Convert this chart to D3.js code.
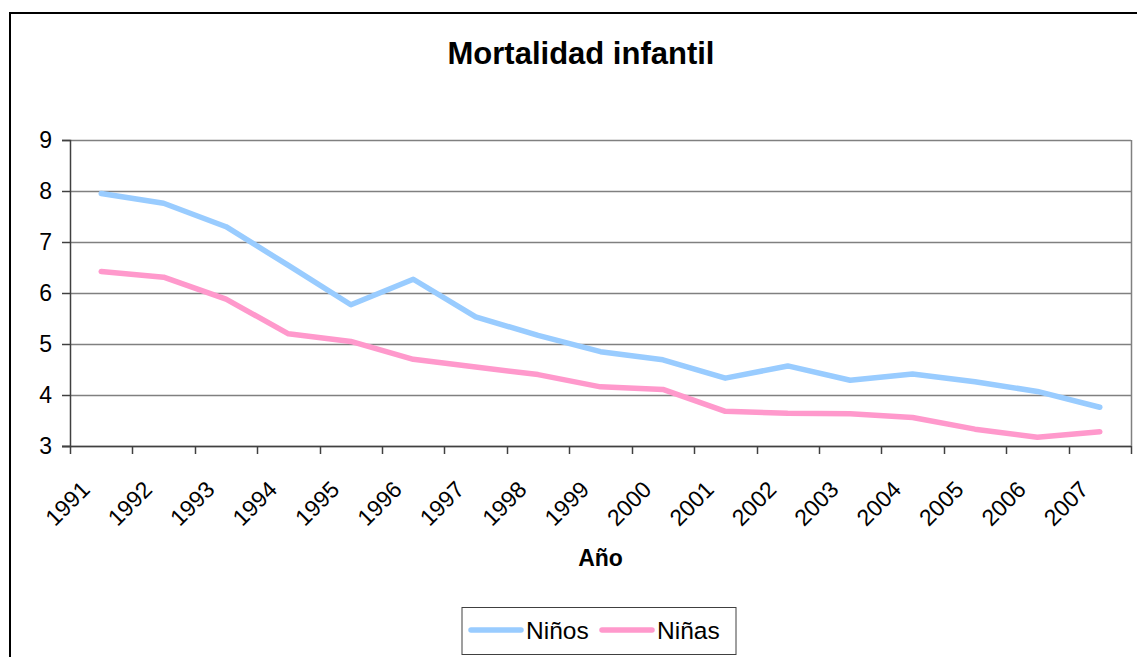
<!DOCTYPE html>
<html><head><meta charset="utf-8">
<script src="https://cdn.jsdelivr.net/npm/d3@7"></script>
<style>
html,body{margin:0;padding:0;background:#fff;}
svg{display:block;font-family:Arial,"Liberation Sans",sans-serif;}
</style></head>
<body>
<svg id="chart" width="1137" height="657"></svg>
<script>
const years = ["1991","1992","1993","1994","1995","1996","1997","1998","1999","2000","2001","2002","2003","2004","2005","2006","2007"];
const ninos = [7.95,7.76,7.30,6.54,5.77,6.27,5.53,5.17,4.85,4.69,4.33,4.57,4.29,4.41,4.26,4.07,3.76];
const ninas = [6.42,6.31,5.88,5.20,5.05,4.70,4.55,4.40,4.16,4.11,3.68,3.64,3.63,3.56,3.33,3.17,3.28];
const yTicks = [3,4,5,6,7,8,9];
const seriesNames = ["Niños","Niñas"];
const seriesColors = ["#99CCFF","#FF99CC"];

const svg = d3.select("#chart");
const W = 1137, H = 657;
const plot = {l:70, r:1131, t:140, b:446};

// outer chart border
svg.append("rect").attr("x",10).attr("y",13).attr("width",W+20).attr("height",H+20)
  .attr("fill","#fff").attr("stroke","#000").attr("stroke-width",2);

const x = d3.scaleBand().domain(years).range([plot.l, plot.r]).padding(0);
const y = d3.scaleLinear().domain([3,9]).range([plot.b, plot.t]);

// gridlines
svg.append("g").selectAll("line").data(yTicks).join("line")
  .attr("x1",plot.l).attr("x2",plot.r)
  .attr("y1",d=>Math.round(y(d))+0.5).attr("y2",d=>Math.round(y(d))+0.5)
  .attr("stroke","#808080").attr("stroke-width",1.5);
// right border
svg.append("line").attr("x1",plot.r+0.5).attr("x2",plot.r+0.5).attr("y1",plot.t).attr("y2",plot.b)
  .attr("stroke","#808080").attr("stroke-width",1.5);

// y axis
const yAxis = svg.append("g").attr("transform",`translate(${plot.l},0)`)
  .call(d3.axisLeft(y).tickValues(yTicks).tickSize(8).tickPadding(10).tickFormat(d3.format("d")));
yAxis.select(".domain").attr("stroke","#404040").attr("stroke-width",1.5);
yAxis.selectAll(".tick line").attr("stroke","#404040").attr("stroke-width",1.5);
yAxis.selectAll("text").attr("font-size",23).attr("fill","#000").attr("font-family","Arial, 'Liberation Sans', sans-serif");

// x axis line
svg.append("line").attr("x1",plot.l-8).attr("x2",plot.r).attr("y1",plot.b+0.5).attr("y2",plot.b+0.5)
  .attr("stroke","#404040").attr("stroke-width",1.5);
// x ticks at band boundaries
const bounds = years.map(d=>x(d)).concat([x(years[years.length-1])+x.bandwidth()]);
svg.append("g").selectAll("line").data(bounds).join("line")
  .attr("x1",d=>Math.round(d)+0.5).attr("x2",d=>Math.round(d)+0.5)
  .attr("y1",plot.b).attr("y2",plot.b+8)
  .attr("stroke","#404040").attr("stroke-width",1.5);
// x labels
svg.append("g").selectAll("text").data(years).join("text")
  .attr("transform",d=>`translate(${x(d)+x.bandwidth()/2-10},${plot.b+45}) rotate(-45)`)
  .attr("text-anchor","end").attr("font-size",23).attr("fill","#000")
  .text(d=>d);

// lines
const line = d3.line().x((d,i)=>x(years[i])+x.bandwidth()/2).y(d=>y(d));
[ninos, ninas].forEach((s,k)=>{
  svg.append("path").datum(s).attr("d",line).attr("fill","none")
    .attr("stroke",seriesColors[k]).attr("stroke-width",5.5)
    .attr("stroke-linejoin","round").attr("stroke-linecap","round");
});

// title
svg.append("text").attr("x",581).attr("y",64).attr("text-anchor","middle")
  .attr("font-size",31).attr("font-weight","bold").text("Mortalidad infantil");
// x axis title
svg.append("text").attr("x",(plot.l+plot.r)/2).attr("y",566).attr("text-anchor","middle")
  .attr("font-size",23).attr("font-weight","bold").text("Año");

// legend
const lg = svg.append("g");
lg.append("rect").attr("x",462).attr("y",607.5).attr("width",274).attr("height",47)
  .attr("fill","#fff").attr("stroke","#404040").attr("stroke-width",1);
const legX = [471, 602];
seriesNames.forEach((n,k)=>{
  lg.append("line").attr("x1",legX[k]).attr("x2",legX[k]+50).attr("y1",630).attr("y2",630)
    .attr("stroke",seriesColors[k]).attr("stroke-width",5.5).attr("stroke-linecap","round");
  lg.append("text").attr("x",legX[k]+55).attr("y",639).attr("font-size",24.5).attr("fill","#000").text(n);
});
</script>
</body></html>
